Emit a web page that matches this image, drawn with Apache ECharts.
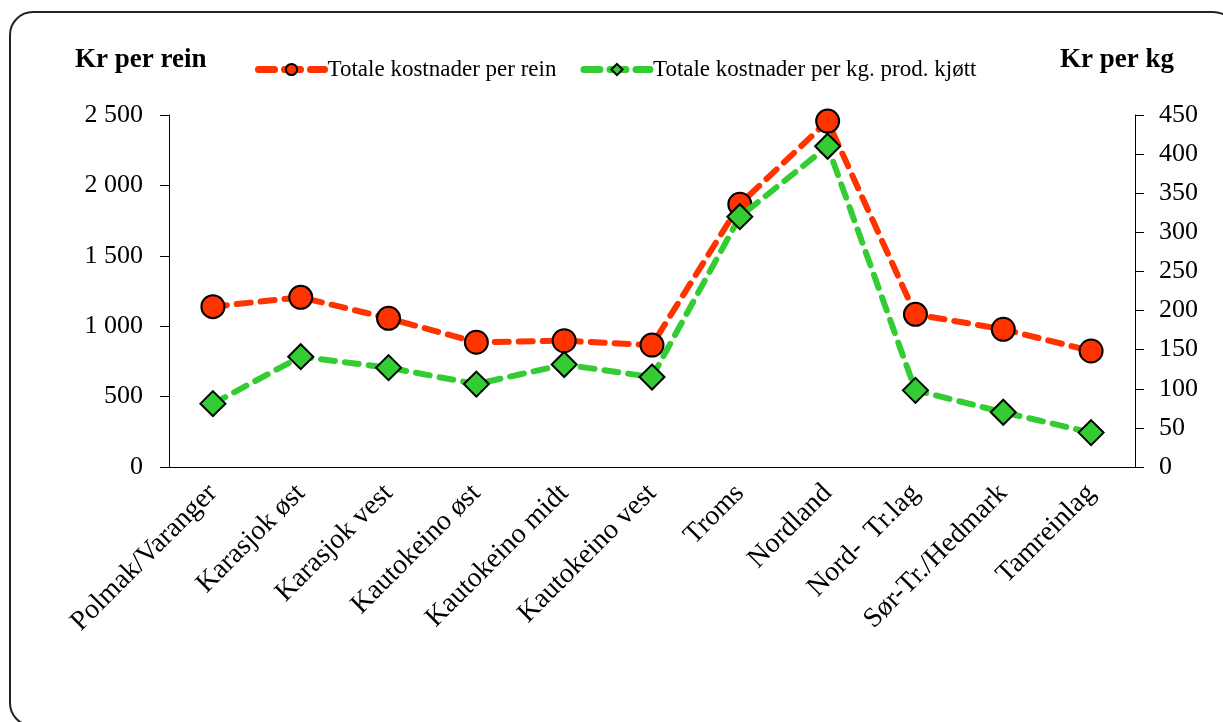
<!DOCTYPE html>
<html>
<head>
<meta charset="utf-8">
<script src="https://cdn.jsdelivr.net/npm/echarts@6/dist/echarts.min.js"></script>
<style>
  html, body { margin: 0; padding: 0; background: #fff; overflow: hidden; }
  #frame {
    position: absolute; left: 9px; top: 11px; width: 1228px; height: 716px;
    border: 2px solid #222; border-radius: 24px; box-sizing: border-box;
  }
  #chart { position: absolute; left: 0; top: 0; width: 1223px; height: 722px; }
</style>
</head>
<body>
<div id="frame"></div>
<div id="chart"></div>
<script>
'use strict';

var categories = ['Polmak/Varanger', 'Karasjok øst', 'Karasjok vest', 'Kautokeino øst',
  'Kautokeino midt', 'Kautokeino vest', 'Troms', 'Nordland', 'Nord-  Tr.lag',
  'Sør-Tr./Hedmark', 'Tamreinlag'];
// kr per rein (venstre akse)
var perRein = [1139, 1205, 1056, 886, 897, 866, 1866, 2457, 1084, 978, 824];
// kr per kg produsert kjøtt (høyre akse)
var perKg = [81, 141, 127, 106, 131, 115, 320, 410, 98, 70, 44];

var serif = '"Liberation Serif", "DejaVu Serif", serif';

var myChart = echarts.init(document.getElementById('chart'));

function spaced(v) {
  return String(v).replace(/\B(?=(\d{3})+(?!\d))/g, ' ');
}

myChart.setOption({
  animation: false,
  textStyle: { fontFamily: serif },
  grid: { left: 169, right: 88, top: 115, bottom: 255 },
  legend: {
    top: 53, left: 250,
    itemGap: 24, itemWidth: 66, itemHeight: 14,
    textStyle: { fontFamily: serif, fontSize: 23, color: '#000', padding: [0, 0, 0, -2] },
    lineStyle: { width: 7, type: [16, 10], cap: 'round' },
    data: ['Totale kostnader per rein', 'Totale kostnader per kg. prod. kjøtt']
  },
  graphic: [
    { type: 'text', left: 75, top: 47, style: { text: 'Kr per rein', font: 'bold 27px ' + serif, fill: '#000' } },
    { type: 'text', left: 1060, top: 47, style: { text: 'Kr per kg', font: 'bold 27px ' + serif, fill: '#000' } }
  ],
  xAxis: {
    type: 'category',
    data: categories,
    boundaryGap: true,
    axisLine: { lineStyle: { color: '#000', width: 1 } },
    axisTick: { length: 8, lineStyle: { color: '#000' } },
    axisLabel: { rotate: 45, fontSize: 28, color: '#000', fontFamily: serif, margin: 22, interval: 0 }
  },
  yAxis: [
    {
      type: 'value', min: 0, max: 2500, interval: 500,
      axisLine: { show: true, lineStyle: { color: '#000' } },
      axisTick: { show: true, length: 9, lineStyle: { color: '#000' } },
      splitLine: { show: false },
      axisLabel: { fontSize: 26, color: '#000', fontFamily: serif, margin: 26, formatter: spaced }
    },
    {
      type: 'value', min: 0, max: 450, interval: 50, position: 'right',
      axisLine: { show: true, lineStyle: { color: '#000' } },
      axisTick: { show: true, length: 9, lineStyle: { color: '#000' } },
      splitLine: { show: false },
      axisLabel: { fontSize: 26, color: '#000', fontFamily: serif, margin: 24 }
    }
  ],
  series: [
    {
      name: 'Totale kostnader per rein',
      type: 'line',
      yAxisIndex: 0,
      data: perRein,
      symbol: 'circle', symbolSize: 23,
      lineStyle: { color: '#FF3300', width: 6, type: [14, 10], cap: 'round' },
      itemStyle: { color: '#FF3300', borderColor: '#000', borderWidth: 2 },
      z: 2
    },
    {
      name: 'Totale kostnader per kg. prod. kjøtt',
      type: 'line',
      yAxisIndex: 1,
      data: perKg,
      symbol: 'diamond', symbolSize: [25, 25],
      lineStyle: { color: '#33CC33', width: 6, type: [14, 10], cap: 'round' },
      itemStyle: { color: '#33CC33', borderColor: '#000', borderWidth: 2 },
      z: 3
    }
  ]
});
</script>
</body>
</html>
